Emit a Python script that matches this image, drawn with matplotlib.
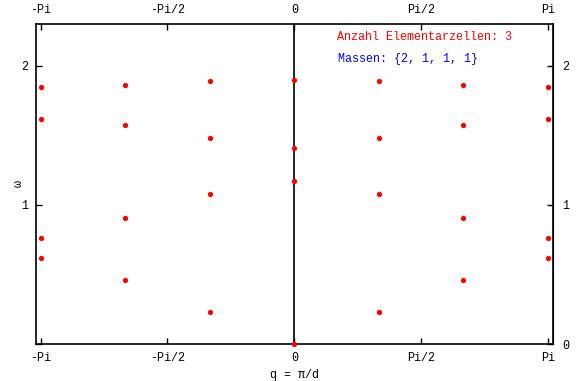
import numpy as np
import matplotlib
matplotlib.use("Agg")
import matplotlib.pyplot as plt

# q positions (in units of pi) and read-off frequencies per column
q_steps = [-3, -2, -1, 0, 1, 2, 3]
omega_cols = [
    [1.851, 1.619, 0.763, 0.621],
    [1.866, 1.576, 0.906, 0.460],
    [1.894, 1.484, 1.081, 0.230],
    [1.901, 1.412, 1.175, 0.0],
    [1.894, 1.484, 1.081, 0.230],
    [1.866, 1.576, 0.906, 0.460],
    [1.851, 1.619, 0.763, 0.621],
]
x_tick_labels = ["-Pi", "-Pi/2", "0", "Pi/2", "Pi"]
anzahl_zellen = 3
massen = [2, 1, 1, 1]

plt.rcParams['font.family'] = ['Liberation Mono', 'DejaVu Sans Mono']
plt.rcParams['font.size'] = 8.5

fig = plt.figure(figsize=(5.82, 3.81), dpi=100)
ax = fig.add_axes([0.0619, 0.0971, 0.888, 0.840])

q = []
w = []
for k, col in zip(q_steps, omega_cols):
    for val in col:
        q.append(k * np.pi / 3)
        w.append(val)

ax.axvline(0, color='black', lw=1.2)
ax.plot(q, w, 'o', color='red', markersize=3.8, markeredgewidth=0, clip_on=False, zorder=3)

ax.set_xlim(-3.197, 3.201)
ax.set_ylim(0, 2.302)

xt = [-np.pi, -np.pi / 2, 0, np.pi / 2, np.pi]
ax.set_xticks(xt)
ax.set_xticklabels(x_tick_labels)
ax.set_yticks([0, 1, 2])
ax.set_yticklabels(["", "1", "2"])
ax.tick_params(direction='in', length=4, width=1, top=True, right=True,
               labeltop=True, labelright=False, pad=6)

# right side shows 0 too
ax2 = ax.secondary_yaxis('right')
ax2.set_yticks([0, 1, 2])
ax2.set_yticklabels(["0", "1", "2"])
ax2.tick_params(direction='in', length=0, pad=7)

for s in ax.spines.values():
    s.set_linewidth(1.2)

ax.set_xlabel("q = π/d", labelpad=3)
ax.set_ylabel("ω", rotation=90)
ax.yaxis.set_label_coords(-0.022, 0.5)

ax.text(0.582, 0.959, "Anzahl Elementarzellen: %d" % anzahl_zellen,
        color='red', transform=ax.transAxes, ha='left', va='center')
ax.text(0.584, 0.891, "Massen: {" + ", ".join(str(m) for m in massen) + "}",
        color='blue', transform=ax.transAxes, ha='left', va='center')

fig.savefig("out.png", dpi=100)
